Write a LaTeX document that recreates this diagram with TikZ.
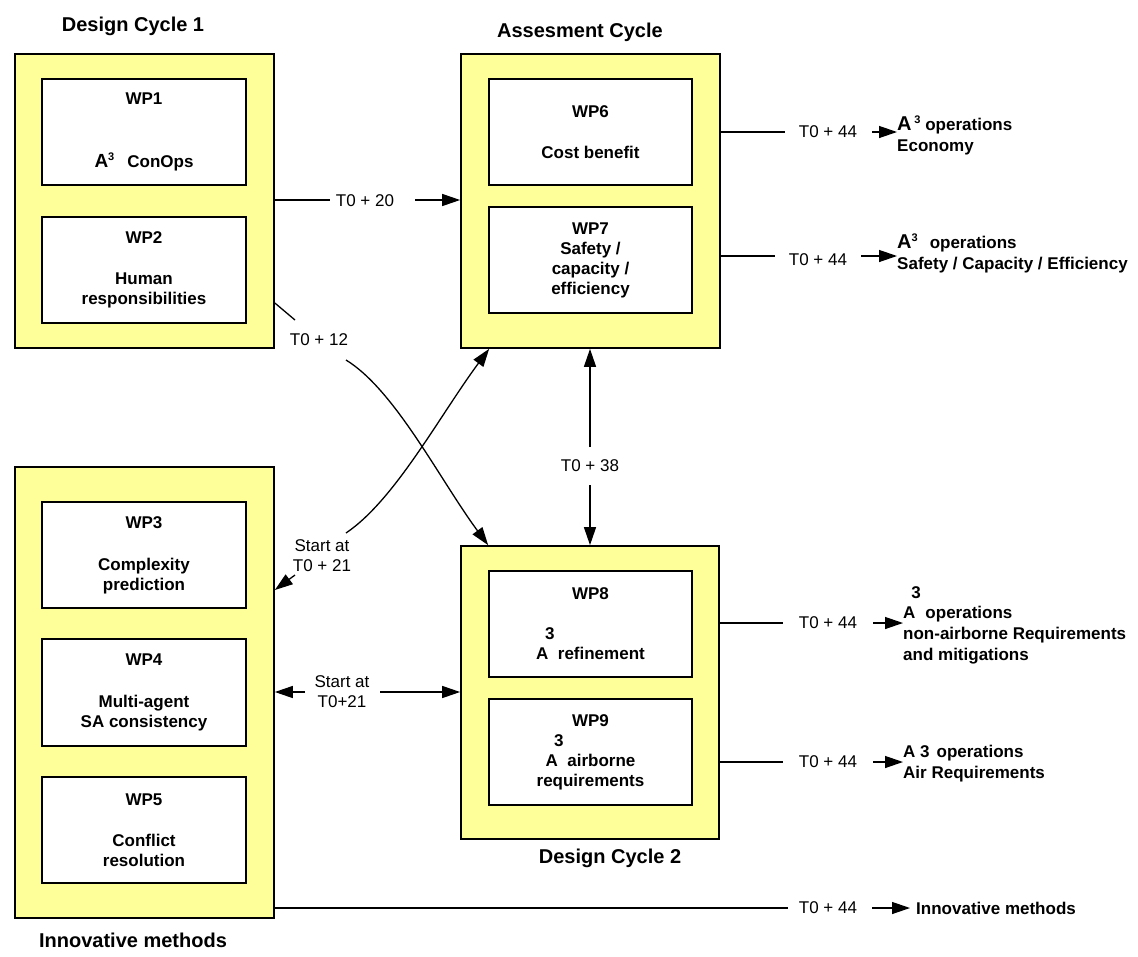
\documentclass[tikz,border=0pt]{standalone}
\usepackage{fontspec}
\setmainfont{Liberation Sans}
\usetikzlibrary{arrows.meta}
\definecolor{boxyellow}{RGB}{255,255,153}
\newcommand{\bigA}{{\fontsize{20}{22}\selectfont A}}
\newcommand{\supthree}{\raisebox{7pt}{\fontsize{11}{12}\selectfont 3}}
\begin{document}
\begin{tikzpicture}[x=1pt,y=-1pt,
  cyclebox/.style={draw=black, fill=boxyellow, line width=1.7pt, inner sep=0pt, minimum width=259pt},
  wpbox/.style={draw=black, fill=white, line width=1.7pt, inner sep=0pt, minimum width=204pt, minimum height=106pt, align=center, font=\bfseries\fontsize{17}{20}\selectfont},
  title/.style={font=\bfseries\fontsize{20}{24}\selectfont, inner sep=0pt},
  lbl/.style={font=\fontsize{17}{20}\selectfont, align=center, inner sep=0pt},
  outtxt/.style={font=\bfseries\fontsize{17}{21}\selectfont, align=left, inner sep=0pt, anchor=base west},
  conn/.style={line width=1.3pt},
  arr/.style={conn, -{Triangle[length=18pt,width=12pt]}},
]
\useasboundingbox (0,0) rectangle (1138,956);

% Design cycle 1
\node[cyclebox, minimum height=294pt] (dc1) at (144.5,201) {};
\node[wpbox] (wp1) at (144,132) {WP1\\[43pt]{\fontsize{19}{20}\selectfont A}\supthree\hspace{13pt}ConOps};
\node[wpbox] (wp2) at (144,270) {WP2\\[21pt]Human\\responsibilities};
\node[title] (t1) at (133,26) {Design Cycle 1};

% Assessment cycle
\node[cyclebox, minimum height=294pt] (asc) at (590.5,201) {};
\node[wpbox, minimum width=203pt] (wp6) at (590.5,132) {WP6\\[21pt]Cost benefit};
\node[wpbox, minimum width=203pt] (wp7) at (590.5,260) {WP7\\Safety /\\capacity /\\efficiency};
\node[title] (t2) at (580,32) {Assesment Cycle};

% Innovative methods
\node[cyclebox, minimum height=451pt] (inn) at (144.5,692.5) {};
\node[wpbox] (wp3) at (144,555) {WP3\\[22pt]Complexity\\prediction};
\node[wpbox, minimum height=107pt] (wp4) at (144,692.5) {WP4\\[22pt]Multi-agent\\SA consistency};
\node[wpbox] (wp5) at (144,830) {WP5\\[21pt]Conflict\\resolution};
\node[title] (t3) at (133,940) {Innovative methods};

% Design cycle 2
\node[cyclebox, minimum width=258pt, minimum height=293pt] (dc2) at (590,692.5) {};
\node[wpbox, minimum width=203pt] (wp8) at (590.5,624) {WP8\\[20pt]\makebox[0pt][r]{3\hspace*{36pt}}\\A~~refinement};
\node[wpbox, minimum width=203pt] (wp9) at (590.5,752) {WP9\\\makebox[0pt][r]{3\hspace*{27pt}}\\A~~airborne\\requirements};
\node[title] (t4) at (610,858) {Design Cycle 2};

% labels
\node[lbl] (l20) at (365,201) {T0 + 20};
\node[lbl] (l12) at (319,340) {T0 + 12};
\node[lbl] (l38) at (590,466) {T0 + 38};
\node[lbl] (l21a) at (322,556) {Start at\\T0 + 21};
\node[lbl] (l21b) at (342,692) {Start at\\T0+21};
\node[lbl] (l44a) at (828,132) {T0 + 44};
\node[lbl] (l44b) at (818,260) {T0 + 44};
\node[lbl] (l44c) at (828,623) {T0 + 44};
\node[lbl] (l44d) at (828,762) {T0 + 44};
\node[lbl] (l44e) at (828,908) {T0 + 44};

% outputs (base anchor = baseline of the last line)
\node[outtxt] (o1) at (897,151) {\bigA\,\supthree\ operations\\Economy};
\node[outtxt] (o2) at (897,269) {\bigA\supthree\hspace{12pt}operations\\Safety / Capacity / Efficiency};
\node[outtxt] (o3) at (903,660) {A\hspace{10pt}operations\\non-airborne Requirements\\and mitigations};
\node[font=\bfseries\fontsize{17}{20}\selectfont, inner sep=0pt] (o3s) at (916,593) {3};
\node[outtxt] (o4) at (903,778) {A 3\hspace{7pt}operations\\Air Requirements};
\node[outtxt] (o5) at (916,914) {Innovative methods};

% connectors
\coordinate (c20a) at (330,200);
\coordinate (c20b) at (415,200);
\draw[conn] (dc1.east |- c20a) -- (c20a);
\draw[arr] (c20b) -- (asc.west |- c20b);

\coordinate (a1) at (785,132); \coordinate (b1) at (872,132);
\draw[conn] (asc.east |- a1) -- (a1);
\draw[arr] (b1) -- (b1 -| o1.west);
\coordinate (a2) at (775,256); \coordinate (b2) at (861,256);
\draw[conn] (asc.east |- a2) -- (a2);
\draw[arr] (b2) -- (b2 -| o2.west);
\coordinate (a3) at (783,623); \coordinate (b3) at (873,623);
\draw[conn] (dc2.east |- a3) -- (a3);
\draw[arr] (b3) -- (b3 -| o3.west);
\coordinate (a4) at (783,762); \coordinate (b4) at (873,762);
\draw[conn] (dc2.east |- a4) -- (a4);
\draw[arr] (b4) -- (b4 -| o4.west);
\coordinate (a5) at (788,908); \coordinate (b5) at (872,908);
\draw[conn] (inn.east |- a5) -- (a5);
\draw[arr, shorten >=6pt] (b5) -- (b5 -| o5.west);

\coordinate (c38a) at (590,447); \coordinate (c38b) at (590,485);
\draw[arr] (c38a) -- (asc.south -| c38a);
\draw[arr] (c38b) -- (dc2.north -| c38b);

\coordinate (c12a) at (295,320);
\coordinate (c12b) at (346,360);
\draw[conn] (dc1.east |- 0,303) -- (c12a);
\draw[arr] (c12b) .. controls (395,390) and (440,480) .. ([xshift=28pt]dc2.north west);

\coordinate (c21a) at (346,533);
\draw[arr] (c21a) .. controls (395,500) and (440,415) .. ([xshift=29pt]asc.south west);
\coordinate (c21b) at (295,575);
\draw[arr] (c21b) -- (inn.east |- 0,590);

\coordinate (c21c) at (305,692); \coordinate (c21d) at (380,692);
\draw[arr] (c21c) -- (inn.east |- c21c);
\draw[arr] (c21d) -- (dc2.west |- c21d);
\end{tikzpicture}
\end{document}
